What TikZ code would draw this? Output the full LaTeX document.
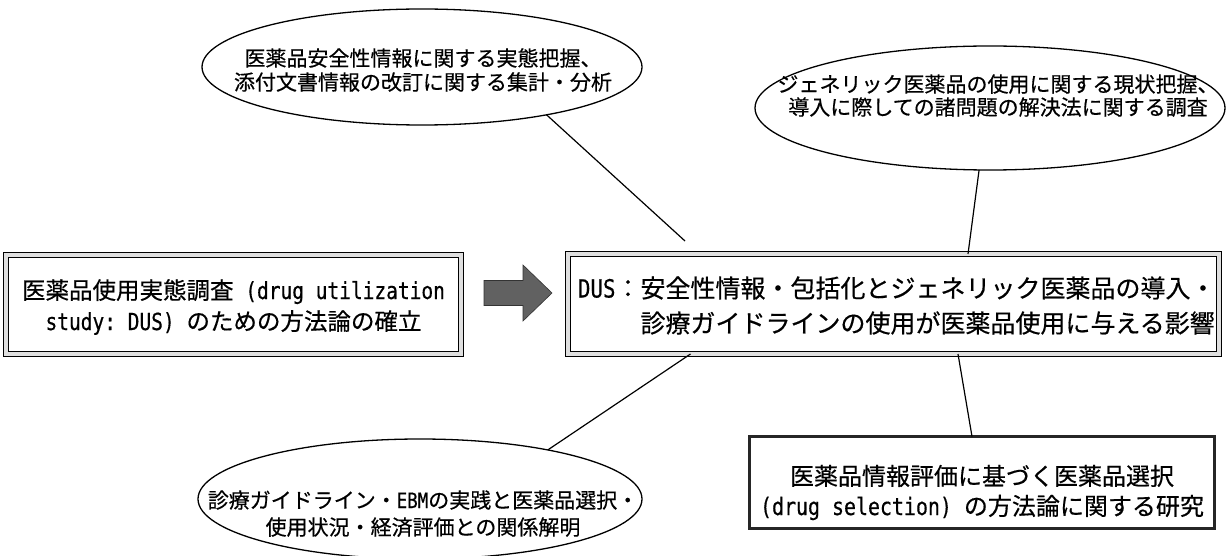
\documentclass[tikz,border=0pt]{standalone}
\usepackage{fontspec}
\setmainfont{Noto Sans CJK JP}[FakeBold=0.5]
\newfontfamily\latfont[FakeStretch=0.83,FakeBold=0.5]{DejaVu Sans Mono}
\newcommand\hw[1]{{\latfont #1}}
\usetikzlibrary{shapes.geometric}
\begin{document}
\begin{tikzpicture}[x=1pt,y=-1pt,
  dbox/.style={draw=black, line width=1.2pt, double=gray!25, double distance=3.6pt, inner sep=0pt, outer sep=0pt},
  tbox/.style={draw=black!85, line width=2.6pt, inner sep=0pt, outer sep=0pt},
  oval/.style={draw=black, line width=1.3pt, ellipse, inner sep=0pt, outer sep=0pt},
  txt/.style={inner sep=0pt, outer sep=0pt, anchor=base},
  fbig/.style={font=\fontsize{25}{30}\selectfont},
  fmid/.style={font=\fontsize{23.5}{28}\selectfont},
  fsm/.style={font=\fontsize{21}{25}\selectfont},
  link/.style={draw=black, line width=1.2pt}]
\useasboundingbox (0,0) rectangle (1226,556);
% boxes
\node[dbox, minimum width=455pt, minimum height=99pt] (b1) at (233.5,304.5) {};
\node[dbox, minimum width=651pt, minimum height=100pt] (b2) at (893.5,304) {};
\node[tbox, minimum width=465pt, minimum height=92pt] (b3) at (982,482.5) {};
% ellipses
\node[oval, minimum width=440pt, minimum height=116pt] (e1) at (422,67) {};
\node[oval, minimum width=470pt, minimum height=124pt] (e2) at (990,108) {};
\node[oval, minimum width=444pt, minimum height=120pt] (e3) at (420,499) {};
% texts
\node[txt, fmid] (t1a) at (233.5,299) {医薬品使用実態調査\hw{~(drug utilization}};
\node[txt, fmid] (t1b) at (233.5,330) {\hw{study:~DUS)~}のための方法論の確立};
\node[txt, fbig, anchor=base west] (t2a) at (578,297.5) {\hw{DUS}：安全性情報・包括化とジェネリック医薬品の導入・};
\node[txt, fbig, anchor=base west] (t2b) at (578,332.5) {\phantom{\hw{DUS}：}診療ガイドラインの使用が医薬品使用に与える影響};
\node[txt, font=\fontsize{24}{28}\selectfont] (t3a) at (982,485) {医薬品情報評価に基づく医薬品選択};
\node[txt, font=\fontsize{24}{28}\selectfont] (t3b) at (982,515) {\hw{(drug selection)~}の方法論に関する研究};
\node[txt, fsm] (t4a) at (423,66) {医薬品安全性情報に関する実態把握、};
\node[txt, fsm] (t4b) at (423,90) {添付文書情報の改訂に関する集計・分析};
\node[txt, fsm] (t5a) at (998,92) {ジェネリック医薬品の使用に関する現状把握、};
\node[txt, fsm] (t5b) at (998,115) {導入に際しての諸問題の解決法に関する調査};
\node[txt, fsm] (t6a) at (423,508) {診療ガイドライン・\hw{EBM}の実践と医薬品選択・};
\node[txt, fsm] (t6b) at (423,535) {使用状況・経済評価との関係解明};
% block arrow
\filldraw[fill=black!62, draw=black!80, line width=0.6pt] (484,280.5) -- (523,280.5) -- (523,265) -- (552,293) -- (523,321) -- (523,305.5) -- (484,305.5) -- cycle;
% connectors
\coordinate (c1) at (685,241);
\draw[link] (e1.-21) -- (c1);
\draw[link] (e2.-100) -- ([xshift=74.5pt]b2.north);
\draw[link] (e3.21.4) -- ([xshift=-203pt]b2.south);
\draw[link] ([xshift=64.5pt]b2.south) -- ([xshift=-10pt]b3.north);
\end{tikzpicture}
\end{document}
